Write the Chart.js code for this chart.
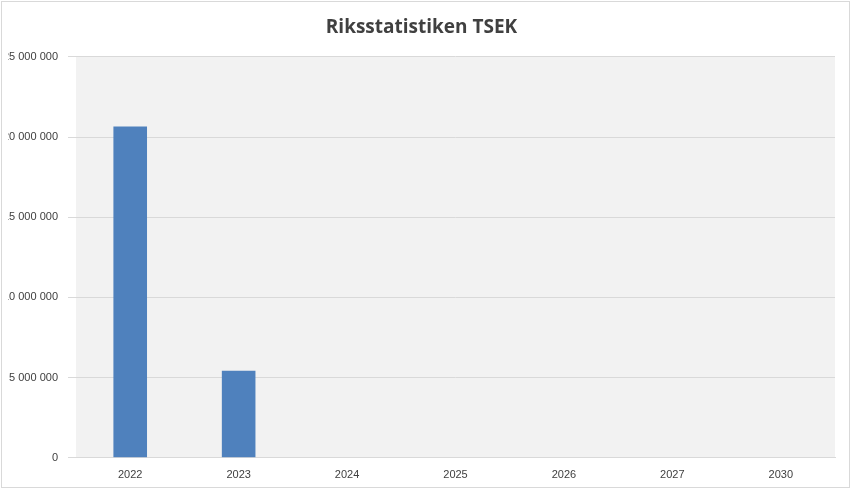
<!DOCTYPE html>
<html><head><meta charset="utf-8">
<script src="https://cdn.jsdelivr.net/npm/chart.js@4"></script>
<style>html,body{margin:0;padding:0;background:#fff}#w{position:absolute;left:1px;top:1px;width:849px;height:487px;border:1px solid #d9d9d9;box-sizing:border-box}</style>
</head><body><div id="w"><canvas id="c"></canvas></div>
<script>
const categories=["2022","2023","2024","2025","2026","2027","2030"];
const values=[20650000,5420000,0,0,0,0,0];
const yTicks=[0,5000000,10000000,15000000,20000000,25000000];
const bg={id:'bg',beforeDraw(c){const a=c.chartArea,x=c.ctx;x.save();x.fillStyle='#f2f2f2';x.fillRect(a.left,a.top,a.right-a.left,a.bottom-a.top);x.restore();}};
new Chart(document.getElementById('c'),{type:'bar',
data:{labels:categories,datasets:[{data:values,backgroundColor:'#4f81bd',barPercentage:0.31,categoryPercentage:1}]},
options:{responsive:true,maintainAspectRatio:false,animation:false,
layout:{padding:{left:6,right:14,top:0,bottom:2}},
plugins:{legend:{display:false},tooltip:{enabled:false},
title:{display:true,text:'Riksstatistiken TSEK',color:'#404040',font:{family:'Open Sans',size:19,weight:'bold'},padding:{top:14,bottom:18}}},
scales:{x:{grid:{display:false},border:{color:'#d9d9d9'},ticks:{color:'#404040',font:{family:'Liberation Sans',size:11}}},
y:{min:0,max:25000000,afterBuildTicks(s){s.ticks=yTicks.map(v=>({value:v}));},afterFit(s){s.width=68;},
grid:{color:'#d9d9d9'},border:{display:false},
ticks:{color:'#404040',padding:10,font:{family:'Liberation Sans',size:11},callback:v=>v.toString().replace(/\B(?=(\d{3})+(?!\d))/g,' ')}}}},
plugins:[bg]});
</script></body></html>
